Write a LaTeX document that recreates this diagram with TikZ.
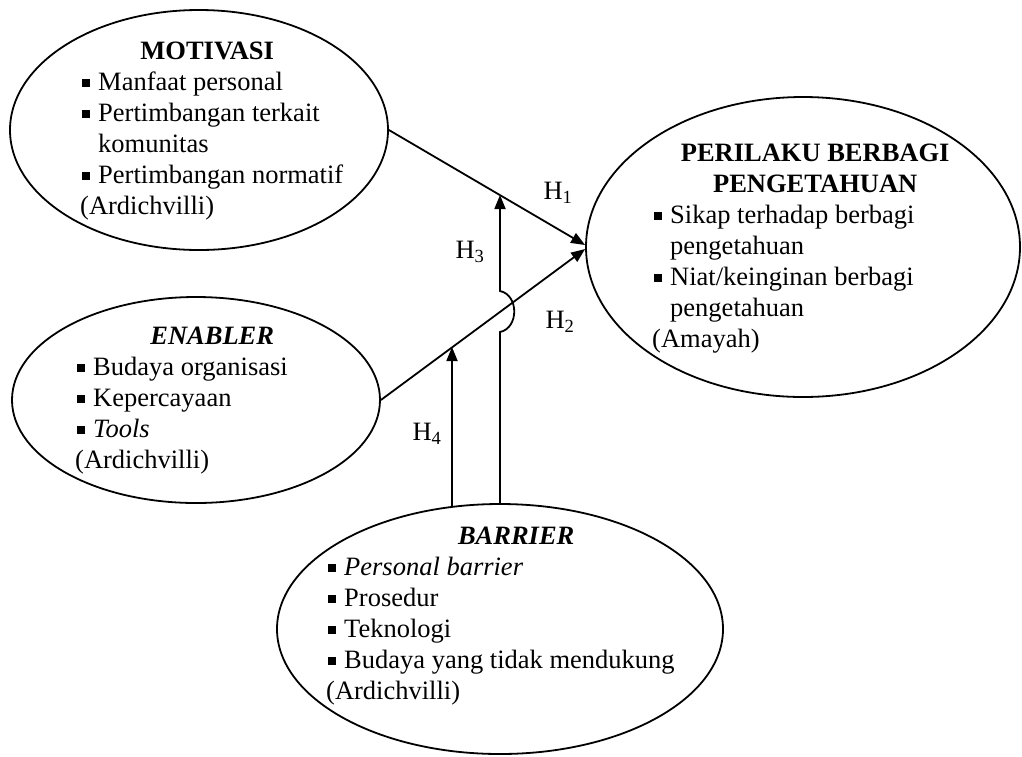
\documentclass[tikz,border=0pt]{standalone}
\usepackage{fontspec}
\setmainfont{Liberation Serif}
\usetikzlibrary{shapes.geometric, arrows.meta, positioning}
\newcommand{\bul}{\hspace*{0.08em}\rule[0.12em]{0.3em}{0.3em}\hspace*{0.3em}}
\newcommand{\ind}{\hspace*{0.68em}}

\begin{document}
\begin{tikzpicture}[x=1pt, y=-1pt, font=\fontsize{26.5}{31}\selectfont]
		\tikzstyle{Oval} = [ellipse, draw=black, line width=1.8pt, inner sep=0pt]
		\tikzstyle{Box} = [anchor=base west, inner sep=0pt]
		\tikzstyle{arrow} = [line width=1.8pt, -{Triangle[length=14pt, width=11pt]}]
		
		\useasboundingbox (0,0) rectangle (1022,756);
		
		\node (motivasi) [Oval, minimum width=378pt, minimum height=240pt] at (199,130) {};
		\node (motivasiText) [Box] at (80,59) {\begin{tabular}[t]{@{}l@{}}
				\makebox[254pt]{\textbf{MOTIVASI}}\\
				\bul Manfaat personal\\
				\bul Pertimbangan terkait\\
				\ind komunitas\\
				\bul Pertimbangan normatif\\
				(Ardichvilli)
			\end{tabular}};
		
		\node (enabler) [Oval, minimum width=368pt, minimum height=206pt] at (196,400) {};
		\node (enablerText) [Box] at (75,344) {\begin{tabular}[t]{@{}l@{}}
				\makebox[274pt]{\textbf{\textit{ENABLER}}}\\
				\bul Budaya organisasi\\
				\bul Kepercayaan\\
				\bul \textit{Tools}\\
				(Ardichvilli)
			\end{tabular}};
		
		\node (perilaku) [Oval, minimum width=434pt, minimum height=300pt] at (803,247) {};
		\node (perilakuText) [Box] at (652,161) {\begin{tabular}[t]{@{}l@{}}
				\makebox[326pt]{\textbf{PERILAKU BERBAGI}}\\
				\makebox[326pt]{\textbf{PENGETAHUAN}}\\
				\bul Sikap terhadap berbagi\\
				\ind pengetahuan\\
				\bul Niat/keinginan berbagi\\
				\ind pengetahuan\\
				(Amayah)
			\end{tabular}};
		
		\node (barrier) [Oval, minimum width=446pt, minimum height=250pt] at (500,629) {};
		\node (barrierText) [Box] at (326,544) {\begin{tabular}[t]{@{}l@{}}
				\makebox[380pt]{\textbf{\textit{BARRIER}}}\\
				\bul \textit{Personal barrier}\\
				\bul Prosedur\\
				\bul Teknologi\\
				\bul Budaya yang tidak mendukung\\
				(Ardichvilli)
			\end{tabular}};
		
		\draw [arrow] (motivasi.east) -- ([yshift=2pt]perilaku.west);
		\draw [arrow] (enabler.east) -- ([yshift=-2pt]perilaku.west);
		
		\coordinate (h3top) at (500,195);
		\coordinate (h4top) at (452,347);
		\coordinate (h4base) at (452,506);
		\draw [arrow] (h4base) -- (h4top);
		\draw [arrow] (barrier.north) -- (500,332) .. controls (519,328) and (519,295) .. (500,291) -- (h3top);
		
		\node (h1) at (558,193) {H\textsubscript{1}};
		\node (h2) at (560,322) {H\textsubscript{2}};
		\node (h3) at (470,252) {H\textsubscript{3}};
		\node (h4) at (427,434) {H\textsubscript{4}};
\end{tikzpicture}
\end{document}
